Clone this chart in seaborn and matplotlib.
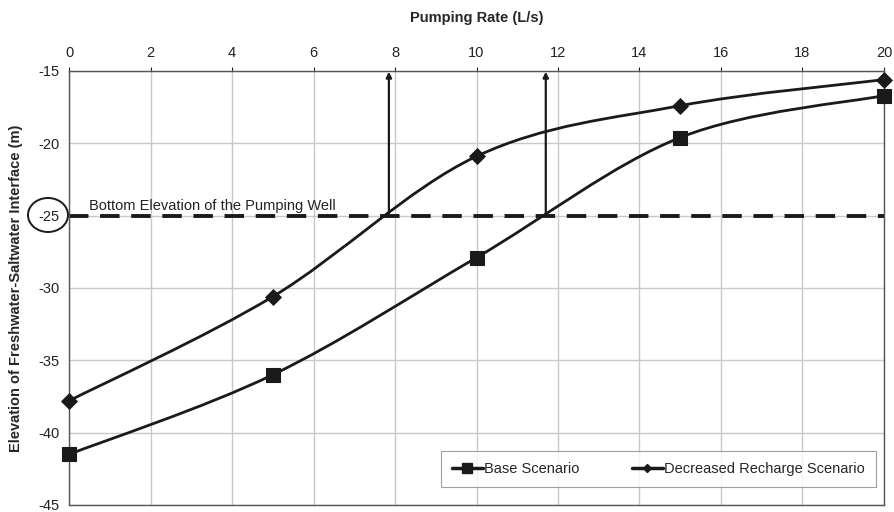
import matplotlib
matplotlib.use("Agg")
import matplotlib.pyplot as plt
import seaborn as sns
import numpy as np
from matplotlib.path import Path
from matplotlib.patches import PathPatch, Ellipse
from matplotlib.lines import Line2D

pumping_rate = [0, 5, 10, 15, 20]
base_scenario = [-41.5, -36.0, -27.9, -19.6, -16.7]
decreased_recharge = [-37.8, -30.6, -20.9, -17.4, -15.6]
well_bottom = -25
arrow_x = [7.85, 11.7]
x_ticks = list(range(0, 21, 2))
y_ticks = [-45, -40, -35, -30, -25, -20, -15]


def smooth_path(xs, ys):
    # Excel-like smoothed line: cubic Bezier through the data points
    pts = np.column_stack([xs, ys]).astype(float)
    n = len(pts)
    verts = [pts[0]]
    codes = [Path.MOVETO]
    for i in range(n - 1):
        p0 = pts[i - 1] if i > 0 else pts[i]
        p1 = pts[i]
        p2 = pts[i + 1]
        p3 = pts[i + 2] if i + 2 < n else pts[i + 1]
        c1 = p1 + (p2 - p0) / 6.0
        c2 = p2 - (p3 - p1) / 6.0
        verts += [c1, c2, p2]
        codes += [Path.CURVE4] * 3
    return Path(verts, codes)


sns.set_style("white")
plt.rcParams['font.family'] = ['Liberation Sans', 'DejaVu Sans']
plt.rcParams['axes.unicode_minus'] = False

fig = plt.figure(figsize=(8.94, 5.12), dpi=100)
ax = fig.add_axes([0.0772, 0.0137, 0.9116, 0.8477])

ink = '#1a1a1a'
fs = 10.5
for ys in [base_scenario, decreased_recharge]:
    ax.add_patch(PathPatch(smooth_path(pumping_rate, ys), fill=False,
                           edgecolor=ink, linewidth=2.0, zorder=3))

sns.scatterplot(x=pumping_rate, y=base_scenario, marker='s', s=95,
                color=ink, edgecolor=ink, ax=ax, zorder=4, clip_on=False)
sns.scatterplot(x=pumping_rate, y=decreased_recharge, marker='D', s=65,
                color=ink, edgecolor=ink, ax=ax, zorder=4, clip_on=False)

ax.axhline(well_bottom, color=ink, linewidth=2.8, dashes=(5, 3), zorder=2)
ax.text(0.5, well_bottom + 0.2, 'Bottom Elevation of the Pumping Well',
        fontsize=fs, color='#222222', va='bottom', ha='left')

for xa in arrow_x:
    ax.annotate('', xy=(xa, -15.05), xytext=(xa, well_bottom),
                arrowprops=dict(arrowstyle='-|>', color=ink, lw=1.6,
                                mutation_scale=8, shrinkA=0, shrinkB=0),
                zorder=3)

ax.set_xlim(0, 20)
ax.set_ylim(-45, -15)
ax.set_xticks(x_ticks)
ax.set_yticks(y_ticks)
ax.xaxis.tick_top()
ax.xaxis.set_label_position('top')
ax.tick_params(axis='both', labelsize=fs, colors='#222222', length=3,
               width=0.8, direction='out')
ax.tick_params(axis='x', pad=5)
ax.grid(True, color='#c8c8c8', linewidth=1.0)
for side in ['left', 'right', 'top', 'bottom']:
    ax.spines[side].set_color('#555555')
    ax.spines[side].set_linewidth(1.0)
    ax.spines[side].set_visible(True)

ax.set_xlabel('Pumping Rate (L/s)', fontsize=fs, fontweight='bold', labelpad=17)
ax.set_ylabel('Elevation of Freshwater-Saltwater Interface (m)', fontsize=fs,
              fontweight='bold', labelpad=11)

circle = Ellipse((48 / 894, 1 - 215 / 512), 40 / 894, 34 / 512,
                 transform=fig.transFigure, fill=False, edgecolor=ink,
                 linewidth=1.4)
fig.patches.append(circle)

handles = [
    Line2D([0], [0], color=ink, lw=2.5, marker='s', markersize=7),
    Line2D([0], [0], color=ink, lw=2.5, marker='D', markersize=4.5),
]
leg = ax.legend(handles, ['Base Scenario', 'Decreased Recharge Scenario'],
                loc='lower right', bbox_to_anchor=(0.99, 0.042), ncol=2,
                fontsize=fs, frameon=True, fancybox=False, handlelength=2.1,
                handletextpad=0.1, columnspacing=3.6, borderpad=0.75,
                borderaxespad=0)
leg.get_frame().set_edgecolor('#888888')
leg.get_frame().set_linewidth(0.8)

fig.savefig('out.png', dpi=100)
